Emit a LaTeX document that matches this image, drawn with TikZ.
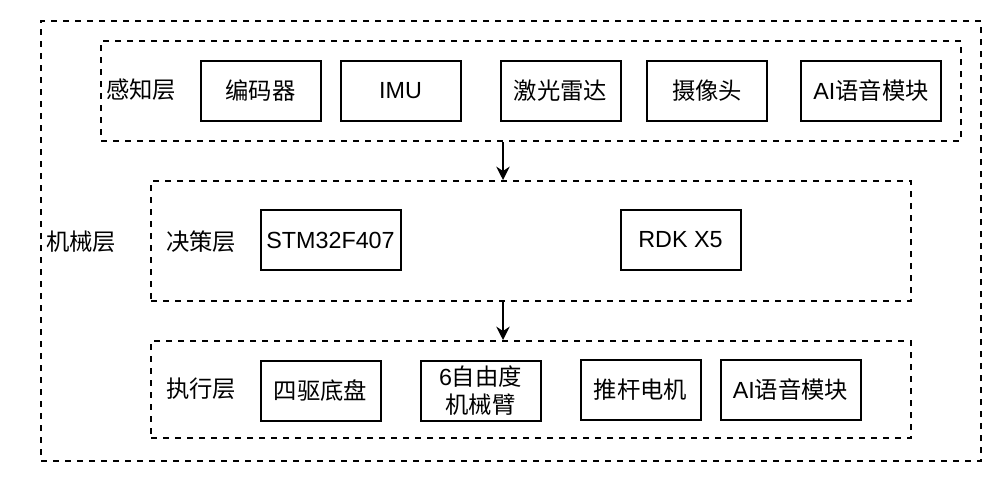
\documentclass[tikz,border=0pt]{standalone}
\usepackage{fontspec}
\setmainfont{Liberation Sans}
\newfontfamily\cjk{Noto Sans CJK SC}
\usetikzlibrary{fit,arrows.meta}
\tikzset{every path/.style={line width=1.5pt},
  unitbox/.style={draw, minimum width=90pt, minimum height=45pt, inner sep=0pt, align=center, font=\fontsize{17.5}{21}\selectfont},
  widebox/.style={unitbox, minimum width=105pt},
  layer/.style={draw, dash pattern=on 4.5pt off 4.5pt, inner sep=0pt},
  layername/.style={anchor=west, inner sep=0pt, font=\fontsize{17.5}{21}\selectfont\cjk}}

\begin{document}
\begin{tikzpicture}[x=0.75pt,y=-0.75pt]
   \useasboundingbox (0,0) rectangle (1002,482);
   % whole machine
   \node[layer, fit={(41,21) (981,461)}] (body) {};
   \node[layername] (bodyname) at (45,242) {机械层};
   % sensing
   \node[layer, fit={(101,41) (961,141)}] (sense) {};
   \node[layername] (sensename) at (105,90) {感知层};
   \node[unitbox] (enc) at (260.5,91) {\cjk 编码器};
   \node[unitbox] (imu) at (400.5,91) {IMU};
   \node[unitbox] (lidar) at (560.5,91) {\cjk 激光雷达};
   \node[unitbox] (cam) at (707,91) {\cjk 摄像头};
   \node[widebox] (voicein) at (871,91) {AI{\cjk 语音模块}};
   % decision
   \node[layer, fit={(151,181) (911,301)}] (decide) {};
   \node[layername] (decidename) at (165,242) {决策层};
   \node[widebox] (stm) at (330.5,240) {STM32F407};
   \node[unitbox] (rdk) at (680.5,240) {RDK X5};
   % execution
   \node[layer, fit={(151,341) (911,438)}] (act) {};
   \node[layername] (actname) at (165,389) {执行层};
   \node[unitbox] (chassis) at (320.5,391) {\cjk 四驱底盘};
   \node[unitbox] (arm) at (480.5,391) {6{\cjk 自由度}\\{\cjk 机械臂}};
   \node[unitbox] (push) at (640.5,390) {\cjk 推杆电机};
   \node[widebox] (voiceout) at (790.5,390) {AI{\cjk 语音模块}};
   % flow
   \coordinate (axis) at (503,0);
   \draw[-{Stealth[length=10pt,width=10pt]}] (sense.south -| axis) -- (decide.north -| axis);
   \draw[-{Stealth[length=10pt,width=10pt]}] (decide.south -| axis) -- (act.north -| axis);
\end{tikzpicture}
\end{document}
